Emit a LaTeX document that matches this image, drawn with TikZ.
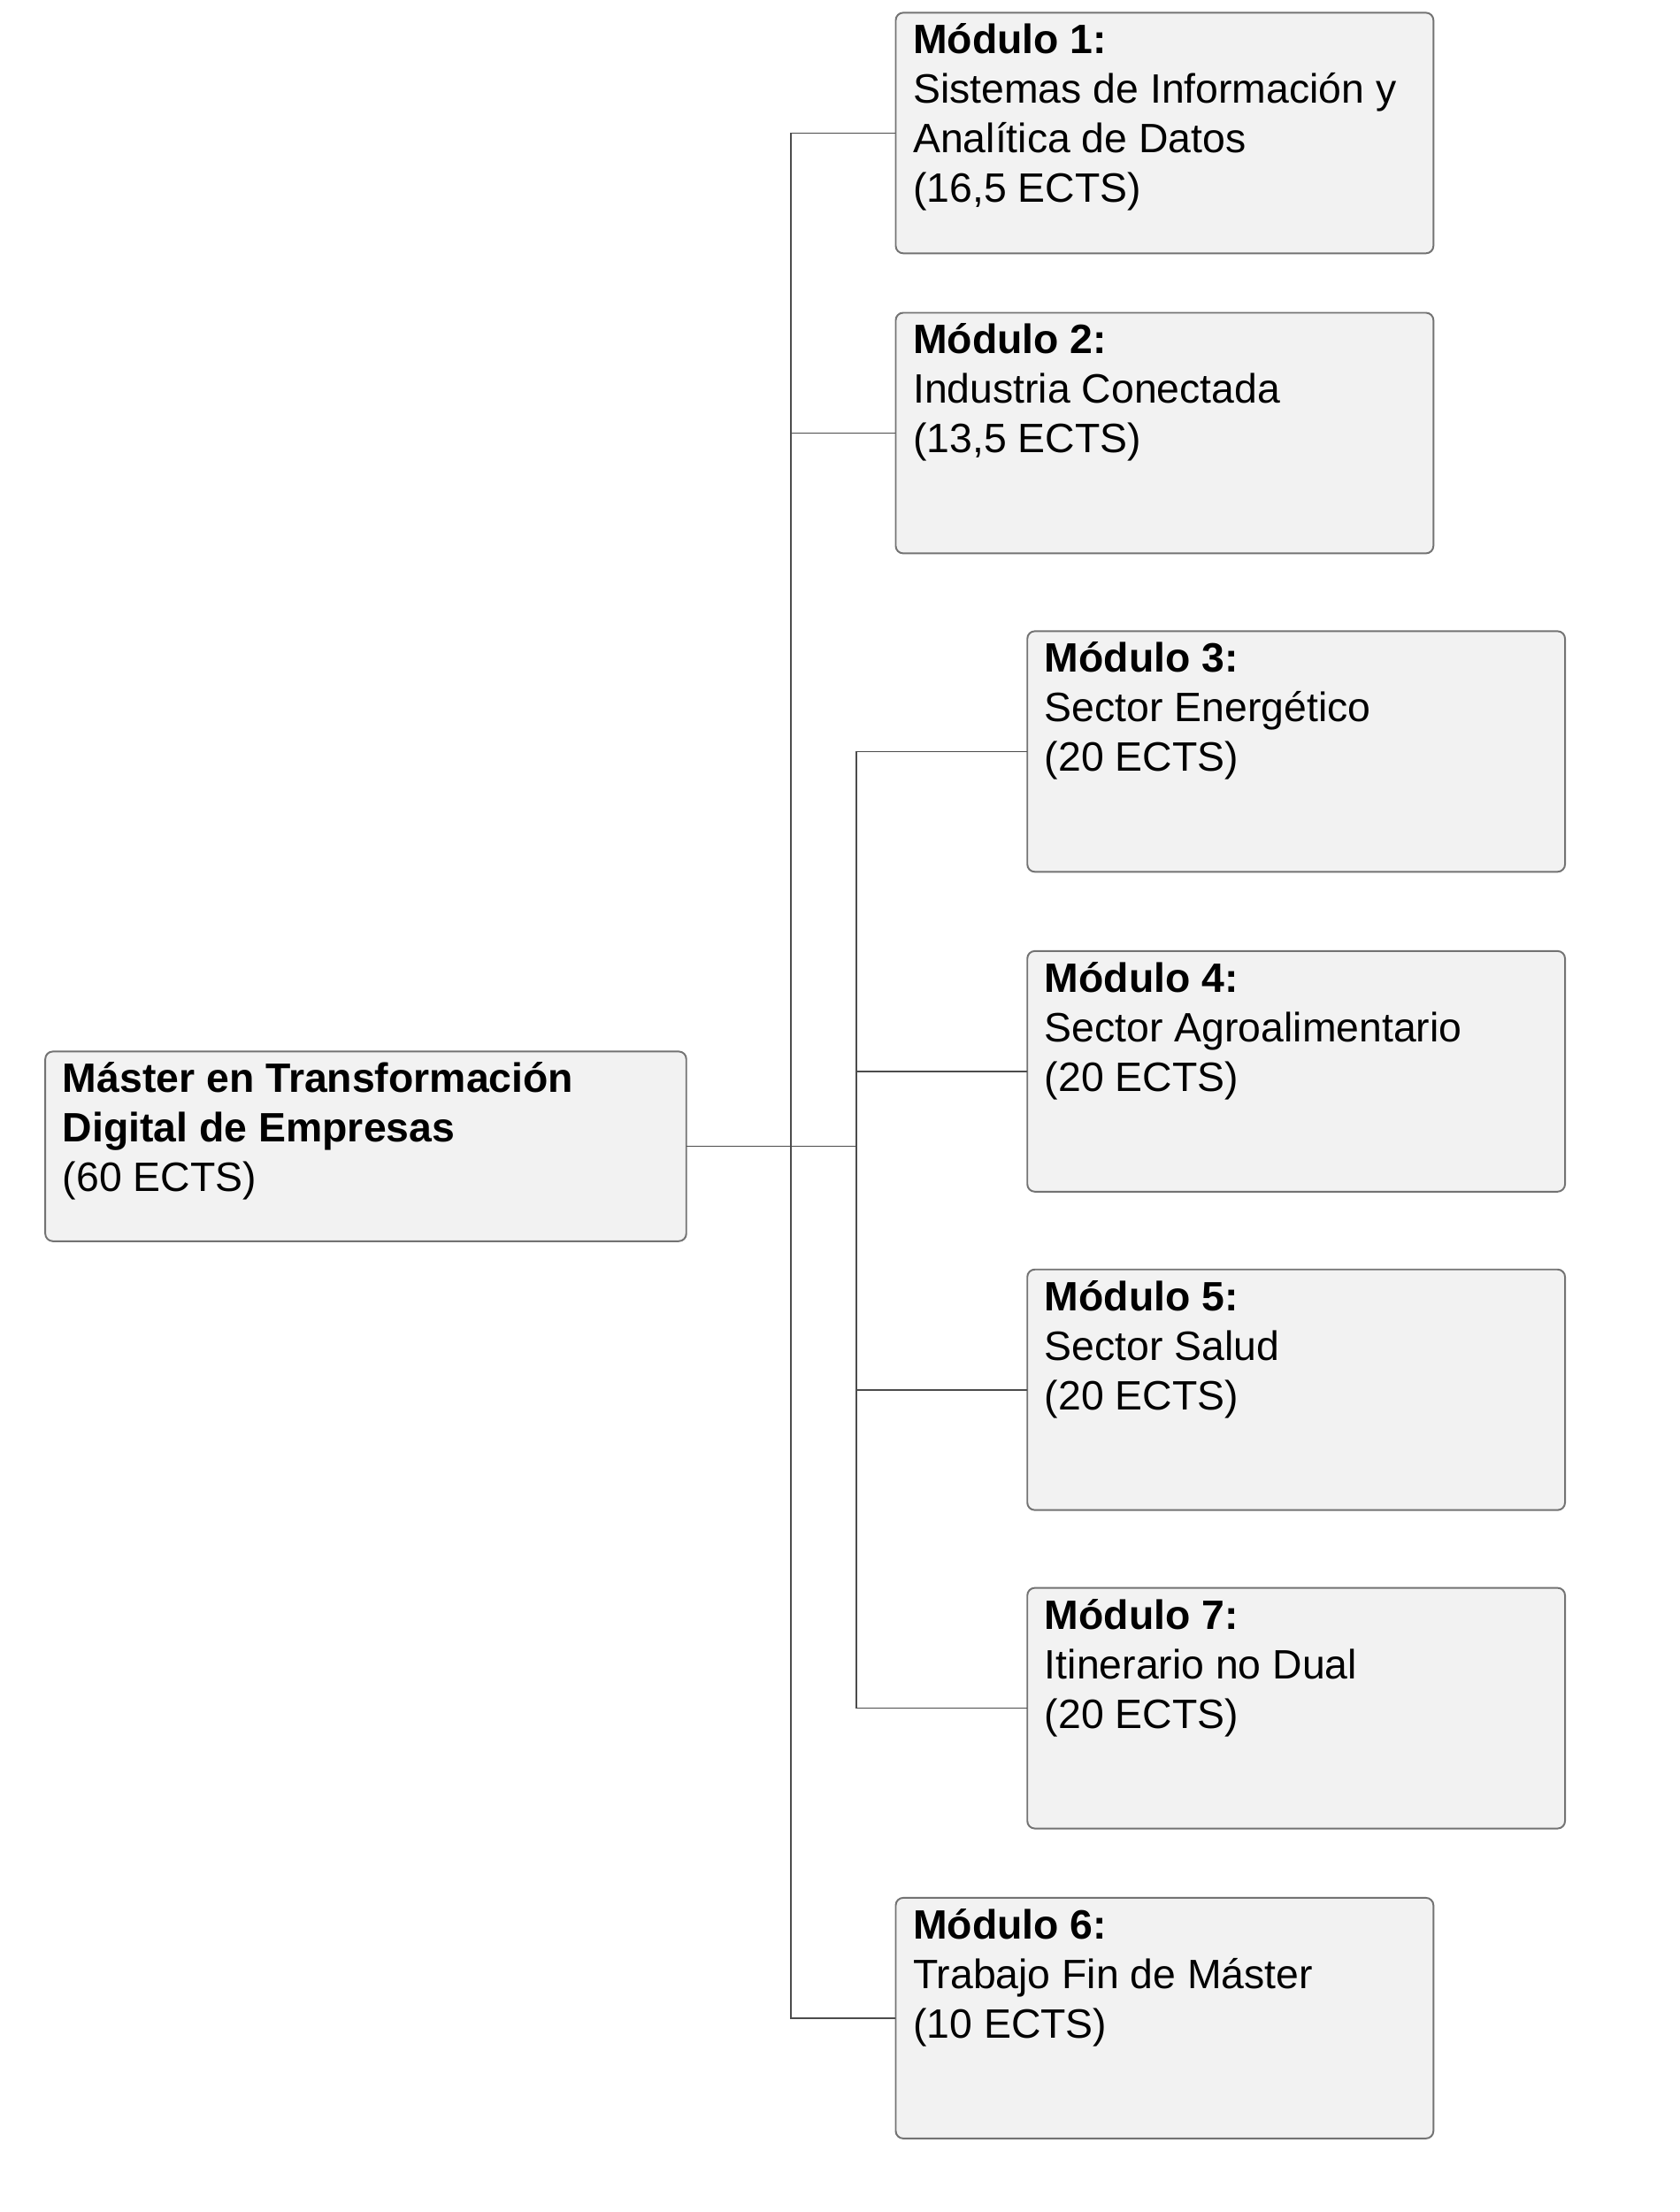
\documentclass[tikz,border=0pt]{standalone}
\usepackage{fontspec}
\setmainfont{Liberation Sans}
\begin{document}
\begin{tikzpicture}[x=0.02cm,y=-0.02cm,
  box/.style={draw=black!55,fill=black!5,rounded corners=3pt,line width=0.7pt,inner sep=0},
  ln/.style={anchor=base west,inner sep=0,font=\fontsize{16.5pt}{20pt}\selectfont},
  con/.style={draw=black!70,line width=0.6pt}]
\useasboundingbox (0,0) rectangle (1187,1563);
\newcommand\mybox[6]{% name x1 y1 x2 y2
  \path[box] (#2,#3) rectangle (#4,#5);
  \coordinate (#1) at (#2,{(#3+#5)/2});
  \coordinate (#1r) at (#4,{(#3+#5)/2});
  \foreach \t [count=\i] in {#6}{\node[ln] at (#2+12,#3+29+35*\i-35) {\t};}
}
\mybox{root}{32}{743}{485}{877}{{\textbf{Máster en Transformación}},{\textbf{Digital de Empresas}},(60 ECTS)}
\mybox{m1}{633}{9}{1013}{179}{{\textbf{Módulo 1:}},{Sistemas de Información y},{Analítica de Datos},(16,5 ECTS)}
\mybox{m2}{633}{221}{1013}{391}{{\textbf{Módulo 2:}},{Industria Conectada},(13,5 ECTS)}
\mybox{m3}{726}{446}{1106}{616}{{\textbf{Módulo 3:}},{Sector Energético},(20 ECTS)}
\mybox{m4}{726}{672}{1106}{842}{{\textbf{Módulo 4:}},{Sector Agroalimentario},(20 ECTS)}
\mybox{m5}{726}{897}{1106}{1067}{{\textbf{Módulo 5:}},{Sector Salud},(20 ECTS)}
\mybox{m7}{726}{1122}{1106}{1292}{{\textbf{Módulo 7:}},{Itinerario no Dual},(20 ECTS)}
\mybox{m6}{633}{1341}{1013}{1511}{{\textbf{Módulo 6:}},{Trabajo Fin de Máster},(10 ECTS)}
\draw[con] (rootr) -- (rootr -| 605,0);
\draw[con] (m1) -- (m1 -| 559,0) -- (m6 -| 559,0) -- (m6);
\draw[con] (m2) -- (m2 -| 559,0);
\draw[con] (m3) -- (m3 -| 605,0) -- (m7 -| 605,0) -- (m7);
\draw[con] (m4) -- (m4 -| 605,0);
\draw[con] (m5) -- (m5 -| 605,0);
\end{tikzpicture}
\end{document}
